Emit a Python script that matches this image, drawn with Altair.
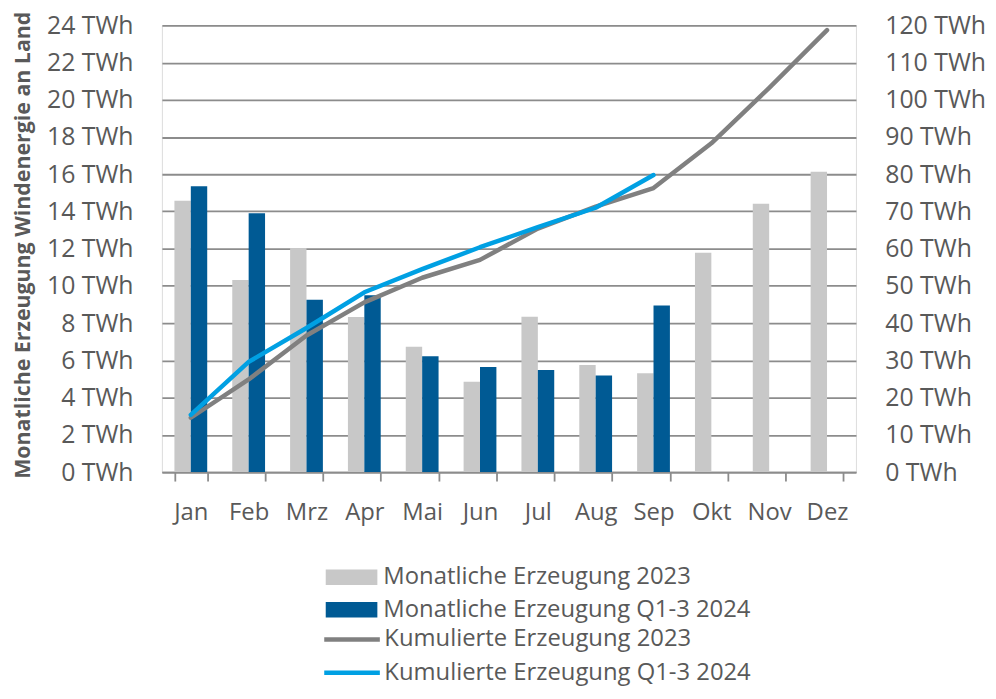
import altair as alt
import pandas as pd

months = ["Jan", "Feb", "Mrz", "Apr", "Mai", "Jun", "Jul", "Aug", "Sep", "Okt", "Nov", "Dez"]
monthly_2023 = [14.57, 10.32, 12.04, 8.33, 6.74, 4.85, 8.35, 5.75, 5.31, 11.78, 14.41, 16.13]
monthly_2024 = [15.36, 13.90, 9.26, 9.50, 6.22, 5.64, 5.49, 5.19, 8.95]
cum_2023 = [14.6, 24.9, 36.7, 45.6, 52.2, 57.0, 65.4, 71.3, 76.3, 88.3, 103.2, 118.7]
cum_2024 = [15.4, 29.6, 38.7, 48.3, 54.5, 60.4, 65.8, 71.0, 79.8]

bar_names = ["Monatliche Erzeugung 2023", "Monatliche Erzeugung Q1-3 2024"]
line_names = ["Kumulierte Erzeugung 2023", "Kumulierte Erzeugung Q1-3 2024"]
bar_colors = ["#c8c8c8", "#005a94"]
line_colors = ["#808080", "#00a0e3"]

bar_rows = []
for m, v in zip(months, monthly_2023):
    bar_rows.append({"month": m, "year": "2023", "series": bar_names[0], "value": v})
for m, v in zip(months, monthly_2024):
    bar_rows.append({"month": m, "year": "2024", "series": bar_names[1], "value": v})
bar_df = pd.DataFrame(bar_rows)

line_rows = []
for i, (m, v) in enumerate(zip(months, cum_2023)):
    line_rows.append({"month": m, "idx": i, "series": line_names[0], "value": v})
for i, (m, v) in enumerate(zip(months, cum_2024)):
    line_rows.append({"month": m, "idx": i, "series": line_names[1], "value": v})
line_df = pd.DataFrame(line_rows)

FONT = "Open Sans"
TXT = "#595959"
GRID = "#8c8c8c"
PLOT_H = 450
TOP = 15

x_scale = alt.Scale(domain=months, paddingInner=0.433, paddingOuter=0.2165)

x_axis = alt.Axis(
    title=None, labelAngle=0, tickBand="extent", tickSize=9, tickWidth=1.8,
    tickColor=GRID, domainColor=GRID, domainWidth=1.8, labelFontSize=24,
    labelColor=TXT, labelFont=FONT, labelPadding=20, grid=False,
)

bars = alt.Chart(bar_df).mark_bar().encode(
    x=alt.X("month:N", scale=x_scale, sort=months, axis=x_axis),
    xOffset=alt.XOffset("year:N", scale=alt.Scale(domain=["2023", "2024"], paddingInner=0, paddingOuter=0)),
    y=alt.Y(
        "value:Q",
        scale=alt.Scale(domain=[0, 24]),
        axis=alt.Axis(
            values=list(range(0, 25, 2)), labelExpr="datum.value + ' TWh'",
            grid=True, gridColor=GRID, gridWidth=1.8, domain=False, ticks=False, tickSize=0,
            labelPadding=29, labelFontSize=25, labelColor=TXT, labelFont=FONT,
            title="Monatliche Erzeugung Windenergie an Land", titleFont=FONT,
            titleFontSize=21.5, titleFontWeight="bold", titleColor=TXT,
            titleX=-139, titleY=PLOT_H / 2 - 4, titleAngle=270, titleAlign="center", titleBaseline="middle",
        ),
    ),
    fill=alt.Fill(
        "series:N",
        scale=alt.Scale(domain=bar_names, range=bar_colors),
        legend=alt.Legend(
            title=None, orient="none", legendX=179, legendY=544, direction="vertical",
            symbolType="M-2.6,-0.78H2.6V0.78H-2.6Z", symbolSize=400, symbolStrokeWidth=0,
            labelFontSize=24, labelColor=TXT, labelFont=FONT, rowPadding=8.5, labelOffset=20,
            labelLimit=700,
        ),
    ),
)

lines = alt.Chart(line_df).mark_line(strokeWidth=4.5, strokeCap="round", strokeJoin="round").encode(
    x=alt.X("month:N", scale=x_scale, sort=months),
    y=alt.Y(
        "value:Q",
        scale=alt.Scale(domain=[0, 120]),
        axis=alt.Axis(
            orient="right", values=list(range(0, 121, 10)), labelExpr="datum.value + ' TWh'",
            grid=False, domain=False, ticks=False, tickSize=0, labelPadding=29,
            labelFontSize=25, labelColor=TXT, labelFont=FONT, title=None,
        ),
    ),
    stroke=alt.Stroke(
        "series:N",
        scale=alt.Scale(domain=line_names, range=line_colors),
        legend=alt.Legend(
            title=None, orient="none", legendX=179, legendY=606, direction="vertical",
            symbolType="M-2.8,0H2.8", symbolSize=400, symbolStrokeWidth=4.5,
            labelFontSize=24, labelColor=TXT, labelFont=FONT, rowPadding=8.5, labelOffset=20,
            labelLimit=700,
        ),
    ),
    order=alt.Order("idx:Q"),
)

chart = alt.layer(bars, lines).resolve_scale(y="independent", fill="independent", stroke="independent").properties(
    width=699, height=PLOT_H,
    autosize=alt.AutoSizeParams(type="none"),
    padding={"left": 155, "top": TOP, "right": 133, "bottom": 216},
).configure_view(stroke=None).configure(background="white")

chart.save("out.html", embed_options={"renderer": "svg", "actions": False})
